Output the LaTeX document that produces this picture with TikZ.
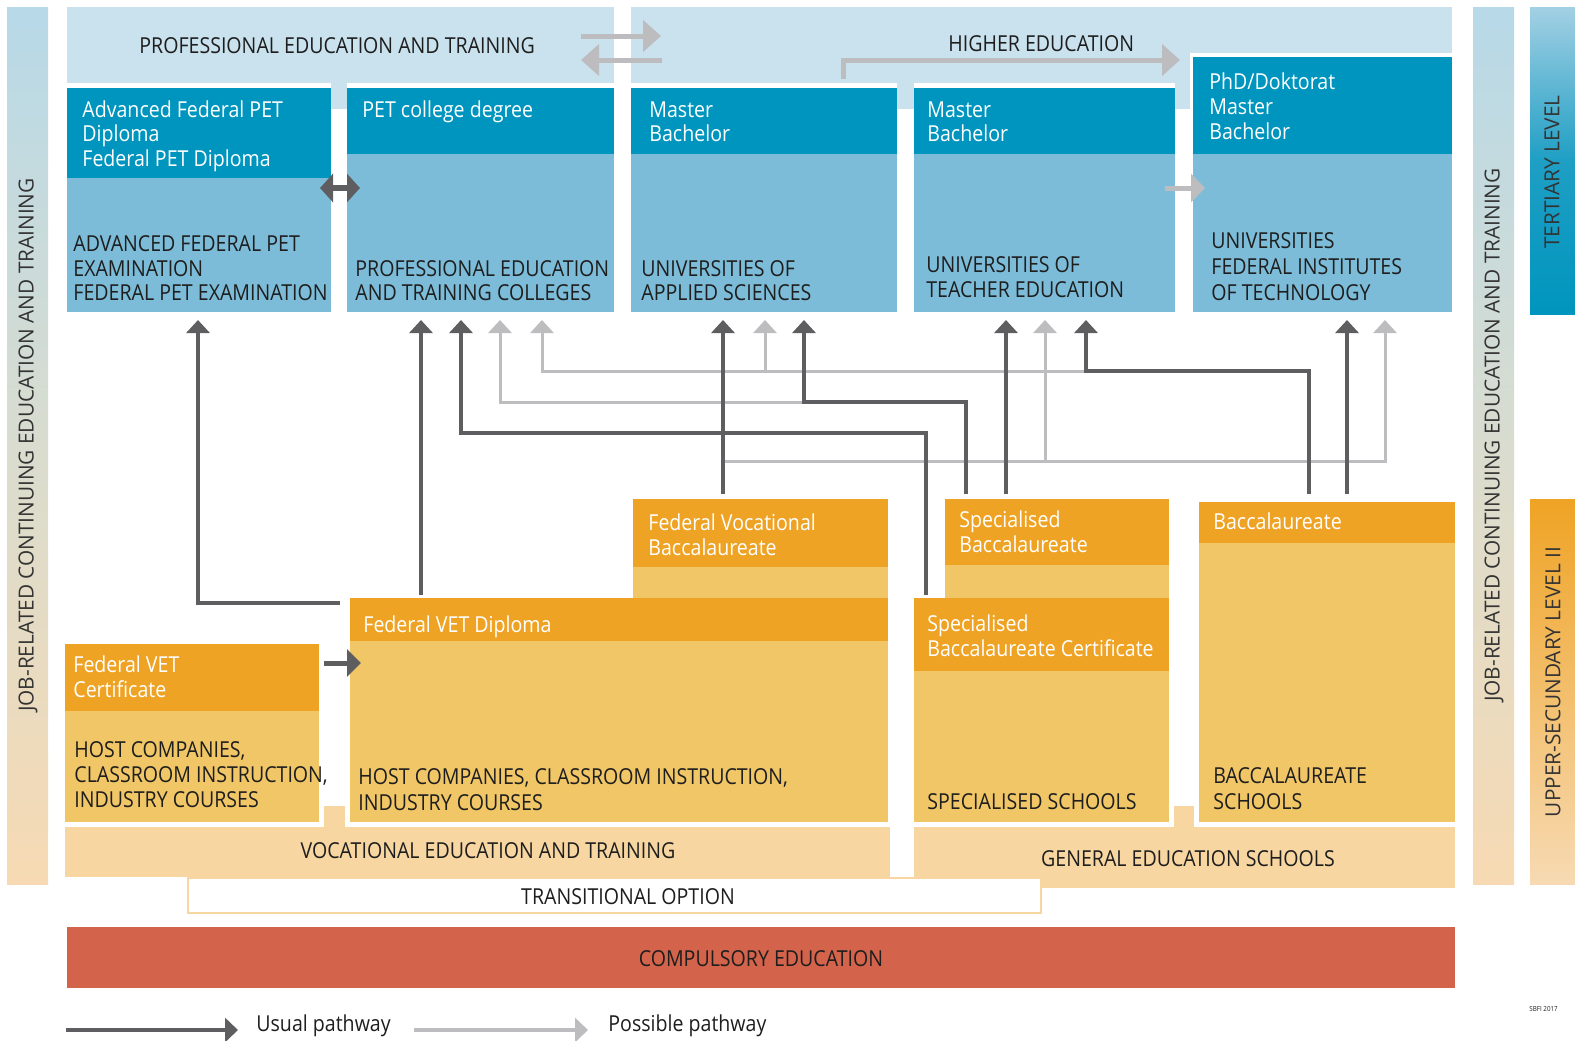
\documentclass[tikz,border=0pt]{standalone}
\usepackage{fontspec}
\setmainfont{Open Sans}[FakeStretch=0.89]
\newfontfamily\sidefont{Open Sans}
\usetikzlibrary{arrows.meta,fit,calc}
\definecolor{hdr}{HTML}{C9E2EE}
\definecolor{teal}{HTML}{0095BE}
\definecolor{bodyblue}{HTML}{7CBCD8}
\definecolor{orange}{HTML}{EFA324}
\definecolor{orangebody}{HTML}{F0C667}
\definecolor{peach}{HTML}{F8D6A1}
\definecolor{compul}{HTML}{D4634B}
\definecolor{usualgray}{HTML}{5E5E60}
\definecolor{possgray}{HTML}{BDBDC0}
\definecolor{textdark}{HTML}{1E1E1E}
\definecolor{sidetop}{HTML}{B7D9E8}
\definecolor{sidemid}{HTML}{D9DCCF}
\definecolor{sidebot}{HTML}{F7DAB3}
\definecolor{sidetext}{HTML}{333333}
\newcommand\mainsz{\fontsize{11}{13}\selectfont}
\tikzset{
  box/.style={inner sep=0pt, outer sep=0pt, draw=none},
  wt/.style={text=white, inner sep=0pt, anchor=base west, font=\mainsz},
  dt/.style={text=textdark, inner sep=0pt, anchor=base west, font=\mainsz},
  ct/.style={text=textdark, inner sep=0pt, anchor=base, font=\mainsz},
  sidetxt/.style={text=sidetext, inner sep=0pt, rotate=90, font=\sidefont\fontsize{10.4}{12}\selectfont},
  usual/.style={draw=usualgray, line width=2pt, -{Triangle[width=11.5pt,length=6.5pt]}, shorten >=4pt},
  possible/.style={draw=possgray, line width=1.5pt, -{Triangle[width=11.5pt,length=6.5pt]}, shorten >=4pt},
  fatlight/.style={draw=possgray, line width=2.5pt, -{Triangle[width=15.5pt,length=9pt]}},
}
\begin{document}
\begin{tikzpicture}[x=0.5pt,y=-0.5pt]
\useasboundingbox (0,0) rectangle (1575,1040);
% side bars
\node[box, fit={(7,7) (48,884)}, top color=sidetop, bottom color=sidebot, middle color=sidemid] (lbar) {};
\node[box, fit={(1473,7) (1514,884)}, top color=sidetop, bottom color=sidebot, middle color=sidemid] (rbar) {};
\node[box, fit={(1530,7) (1575,314)}, top color=bodyblue!70, bottom color=teal, middle color=teal!75!bodyblue] (tbar) {};
\node[box, fit={(1530,499) (1575,884)}, top color=orange, bottom color=sidebot] (ubar) {};
\node[sidetxt] (lbart) at (28,445) {JOB-RELATED CONTINUING EDUCATION AND TRAINING};
\node[sidetxt] (rbart) at (1494,435) {JOB-RELATED CONTINUING EDUCATION AND TRAINING};
\node[sidetxt] (tbart) at (1552,172) {TERTIARY LEVEL};
\node[sidetxt] (ubart) at (1553,682) {UPPER-SECUNDARY LEVEL II};
% headers
\node[box, fill=hdr, fit={(67,7) (614,83)}] (peth) {};
\node[box, fill=hdr, fit={(331,83) (347,109)}] (pettab) {};
\node[box, fill=hdr, fit={(631,7) (1452,53)}] (heh) {};
\node[box, fill=hdr, fit={(631,53) (1190,83)}] (hel) {};
\node[box, fill=hdr, fit={(897,83) (914,109)}] (hetab1) {};
\node[box, fill=hdr, fit={(1175,53) (1190,109)}] (hetab2) {};
\node[dt] (petht) at (139,53) {PROFESSIONAL EDUCATION AND TRAINING};
\node[dt] (heht) at (948,51) {HIGHER EDUCATION};
% tertiary boxes
\node[box, fill=teal, fit={(67,88) (331,178)}] (advh) {};
\node[box, fill=bodyblue, fit={(67,178) (331,312)}] (advb) {};
\node[box, fill=teal, fit={(347,88) (614,154)}] (petch) {};
\node[box, fill=bodyblue, fit={(347,154) (614,312)}] (petcb) {};
\node[box, fill=teal, fit={(631,88) (897,154)}] (uash) {};
\node[box, fill=bodyblue, fit={(631,154) (897,312)}] (uasb) {};
\node[box, fill=teal, fit={(914,88) (1175,154)}] (uteh) {};
\node[box, fill=bodyblue, fit={(914,154) (1175,312)}] (uteb) {};
\node[box, fill=teal, fit={(1193,57) (1452,154)}] (unih) {};
\node[box, fill=bodyblue, fit={(1193,154) (1452,312)}] (unib) {};
\node[wt] (advt1) at (82,117) {Advanced Federal PET};
\node[wt] (advt2) at (82,141) {Diploma};
\node[wt] (advt3) at (82,166) {Federal PET Diploma};
\node[wt] (petct1) at (362,117) {PET college degree};
\node[wt] (uast1) at (649,117) {Master};
\node[wt] (uast2) at (649,141) {Bachelor};
\node[wt] (utet1) at (927,117) {Master};
\node[wt] (utet2) at (927,141) {Bachelor};
\node[wt] (unit1) at (1209,89) {PhD/Doktorat};
\node[wt] (unit2) at (1209,114) {Master};
\node[wt] (unit3) at (1209,139) {Bachelor};
\node[dt] (advb1) at (73,251) {ADVANCED FEDERAL PET};
\node[dt] (advb2) at (73,276) {EXAMINATION};
\node[dt] (advb3) at (73,300) {FEDERAL PET EXAMINATION};
\node[dt] (petcb1) at (355,276) {PROFESSIONAL EDUCATION};
\node[dt] (petcb2) at (355,300) {AND TRAINING COLLEGES};
\node[dt] (uasb1) at (641,276) {UNIVERSITIES OF};
\node[dt] (uasb2) at (641,300) {APPLIED SCIENCES};
\node[dt] (uteb1) at (926,272) {UNIVERSITIES OF};
\node[dt] (uteb2) at (926,297) {TEACHER EDUCATION};
\node[dt] (unib1) at (1211,248) {UNIVERSITIES};
\node[dt] (unib2) at (1211,274) {FEDERAL INSTITUTES};
\node[dt] (unib3) at (1211,300) {OF TECHNOLOGY};
% upper secondary boxes
\node[box, fill=orange, fit={(633,499) (888,567)}] (fvbh) {};
\node[box, fill=orangebody, fit={(633,567) (888,598)}] (fvbb) {};
\node[box, fill=orange, fit={(945,499) (1169,565)}] (sbh) {};
\node[box, fill=orangebody, fit={(945,565) (1169,598)}] (sbb) {};
\node[box, fill=orange, fit={(1199,502) (1455,543)}] (bach) {};
\node[box, fill=orangebody, fit={(1199,543) (1455,822)}] (bacb) {};
\node[box, fill=orange, fit={(350,598) (888,641)}] (fvetdh) {};
\node[box, fill=orangebody, fit={(350,641) (888,822)}] (fvetdb) {};
\node[box, fill=orange, fit={(914,598) (1169,671)}] (sbch) {};
\node[box, fill=orangebody, fit={(914,671) (1169,822)}] (sbcb) {};
\node[box, fill=orange, fit={(65,644) (319,711)}] (fvetch) {};
\node[box, fill=orangebody, fit={(65,711) (319,822)}] (fvetcb) {};
\node[wt] (fvbt1) at (648,530) {Federal Vocational};
\node[wt] (fvbt2) at (648,555) {Baccalaureate};
\node[wt] (sbt1) at (959,527) {Specialised};
\node[wt] (sbt2) at (959,552) {Baccalaureate};
\node[wt] (bact1) at (1213,529) {Baccalaureate};
\node[wt] (fvetdt1) at (363,632) {Federal VET Diploma};
\node[wt] (sbct1) at (927,631) {Specialised};
\node[wt] (sbct2) at (927,656) {Baccalaureate Certificate};
\node[wt] (fvetct1) at (73,672) {Federal VET};
\node[wt] (fvetct2) at (73,697) {Certificate};
\node[dt] (fvetcb1) at (74,757) {HOST COMPANIES,};
\node[dt] (fvetcb2) at (74,782) {CLASSROOM INSTRUCTION,};
\node[dt] (fvetcb3) at (74,807) {INDUSTRY COURSES};
\node[dt] (fvetdb1) at (358,784) {HOST COMPANIES, CLASSROOM INSTRUCTION,};
\node[dt] (fvetdb2) at (358,810) {INDUSTRY COURSES};
\node[dt] (sbcb1) at (927,809) {SPECIALISED SCHOOLS};
\node[dt] (bacb1) at (1213,783) {BACCALAUREATE};
\node[dt] (bacb2) at (1213,809) {SCHOOLS};
% bases
\node[box, fill=peach, fit={(65,827) (890,877)}] (vet) {};
\node[box, fill=peach, fit={(324,806) (345,827)}] (vettab) {};
\node[box, fill=peach, fit={(914,827) (1455,888)}] (ges) {};
\node[box, fill=peach, fit={(1174,806) (1194,827)}] (gestab) {};
\node[ct] (vett) at (488,858) {VOCATIONAL EDUCATION AND TRAINING};
\node[ct] (gest) at (1188,866) {GENERAL EDUCATION SCHOOLS};
\node[box, fill=white, draw=peach, line width=1.2pt, fit={(188,878) (1041,913)}] (trans) {};
\node[ct] (transt) at (628,904) {TRANSITIONAL OPTION};
\node[box, fill=compul, fit={(67,927) (1455,988)}] (comp) {};
\node[ct] (compt) at (761,966) {COMPULSORY EDUCATION};
% helper coordinates
\foreach \c in {198,340,421,461,500,542,723,765,804,926,966,1006,1045,1086,1309,1347,1385}
  \coordinate (k\c) at (\c,0);
\foreach \r in {371,402,433,461,603}
  \coordinate (r\r) at (0,\r);
% possible pathways
\draw[possible] (k804 |- r402) -| (k500 |- petcb.south);
\draw[possible] (k1086 |- r371) -| (k542 |- petcb.south);
\draw[possible] (k765 |- r371) -- (k765 |- uasb.south);
\draw[possible] (k723 |- r461) -| (k1385 |- unib.south);
\draw[possible] (k1045 |- r461) -- (k1045 |- uteb.south);
% usual pathways
\draw[usual] (k340 |- r603) -| (k198 |- advb.south);
\draw[usual, shorten <=1.5pt] (k421 |- fvetdh.north) -- (k421 |- petcb.south);
\draw[usual, shorten <=1.5pt] (k926 |- sbch.north) -- (k926 |- r433) -| (k461 |- petcb.south);
\draw[usual, shorten <=2.5pt] (k723 |- fvbh.north) -- (k723 |- uasb.south);
\draw[usual, shorten <=2.5pt] (k966 |- sbh.north) -- (k966 |- r402) -| (k804 |- uasb.south);
\draw[usual, shorten <=2.5pt] (k1006 |- sbh.north) -- (k1006 |- uteb.south);
\draw[usual, shorten <=4pt] (k1309 |- bach.north) -- (k1309 |- r371) -| (k1086 |- uteb.south);
\draw[usual, shorten <=4pt] (k1347 |- bach.north) -- (k1347 |- unib.south);
% small arrows
\coordinate (dA) at (320,188); \coordinate (dB) at (360,188);
\draw[draw=usualgray, line width=3.2pt, {Triangle[width=14pt,length=6.5pt]}-{Triangle[width=14pt,length=6.5pt]}] (dA) -- (dB);
\coordinate (lA) at (1165,188); \coordinate (lB) at (1205,188);
\draw[draw=possgray, line width=2.5pt, -{Triangle[width=14pt,length=7pt]}] (lA) -- (lB);
\coordinate (vA) at (324,663); \coordinate (vB) at (361,663);
\draw[draw=usualgray, line width=2.5pt, -{Triangle[width=13.5pt,length=7pt]}] (vA) -- (vB);
\coordinate (tA) at (581,36); \coordinate (tB) at (661,36);
\draw[fatlight] (tA) -- (tB);
\coordinate (tC) at (662,60); \coordinate (tD) at (581,60);
\draw[fatlight] (tC) -- (tD);
\coordinate (hA) at (843,79); \coordinate (hB) at (1180,60);
\draw[fatlight] (hA) |- (hB);
% legend
\coordinate (g1) at (66,1030); \coordinate (g2) at (238,1030);
\draw[draw=usualgray, line width=2.2pt, -{Triangle[width=12pt,length=6.5pt]}] (g1) -- (g2);
\node[dt] (g3) at (256,1031) {Usual pathway};
\coordinate (g4) at (414,1030); \coordinate (g5) at (588,1030);
\draw[draw=possgray, line width=2.2pt, -{Triangle[width=12pt,length=6.5pt]}] (g4) -- (g5);
\node[dt] (g6) at (608,1031) {Possible pathway};
\node[text=textdark, inner sep=0pt, anchor=base west, font=\fontsize{3.5}{4}\selectfont] (sbfi) at (1529,1011) {SBFI 2017};
\end{tikzpicture}
\end{document}
